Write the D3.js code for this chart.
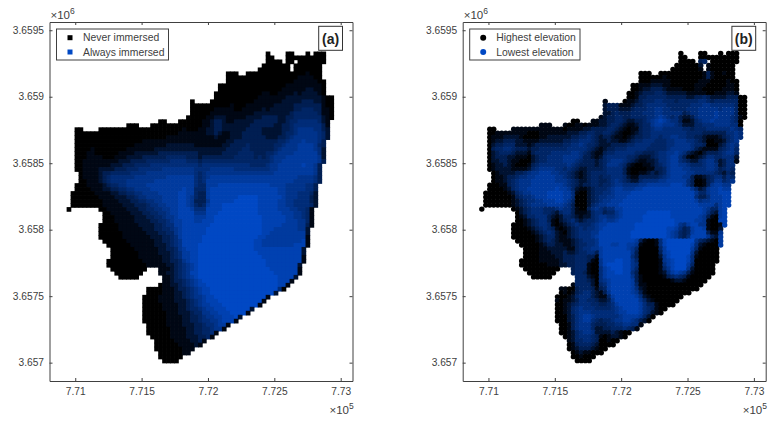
<!DOCTYPE html>
<html>
<head>
<meta charset="utf-8">
<script src="https://cdn.jsdelivr.net/npm/d3@7"></script>
<style>
  html, body { margin: 0; padding: 0; background: #fff; }
  svg { display: block; }
  text { font-family: "Liberation Sans", Arial, sans-serif; fill: #404040; }
  .axis path, .axis line { stroke: #404040; stroke-width: 1; }
  .axis text { font-size: 10.2px; }
</style>
</head>
<body>
<svg id="chart" width="769" height="421"></svg>
<script>
var xTicks = [771000, 771500, 772000, 772500, 773000];
var xTickLabels = ["7.71", "7.715", "7.72", "7.725", "7.73"];
var yTicks = [3657000, 3657500, 3658000, 3658500, 3659000, 3659500];
var yTickLabels = ["3.657", "3.6575", "3.658", "3.6585", "3.659", "3.6595"];
var xDomain = [770806, 773089];
var yDomain = [3656862, 3659562];

// the survey grid, 30 m cells, first cell centre at these coordinates
var gridX0 = 770950;
var gridY0 = 3659325;
var gridStep = 30;

// which columns exist on each row (from,to,from,to...), top row first
var rowRuns = [
[50,50,55,56,60,60,62,64],[50,51,55,64],[50,53,55,56,58,64],[49,55,57,63],[48,55,57,63],
[40,42,45,63],[40,63],[40,64],[38,64],[38,64],[37,64],[37,66],[31,31,36,66],[31,66],[31,66],[31,66],
[30,66],[23,24,28,65],[15,17,21,65],[2,3,8,65],[2,65],[2,65],[2,64],[2,64],[2,64],[2,64],[2,64],[2,64],
[2,63],[2,63],[3,63],[3,63],[3,63],[2,62],[2,62],[1,62],[1,62],[1,62],[1,62],[0,0,8,61],
[9,61],[9,61],[9,61],[8,61],[8,60],[8,60],[8,60],[9,60],[10,60],[11,59],[11,59],[11,59],[10,59],[10,58],
[11,19,23,58],[12,18,23,58],[13,17,24,57],[24,56],[23,55],[20,54],[20,52],[19,50],[19,49],[19,48],[19,46],[19,45],[19,43],[19,42],
[20,40],[20,39],[20,37],[21,36],[22,34],[22,33],[22,31],[23,30],[23,28],[24,27]
];

// immersion level per cell, 0 never .. 9 always (groups of ten columns)
var immersion = [
".......... .......... .......... .......... .......... 0....00... 0.000..",
".......... .......... .......... .......... .......... 00...00000 00000..",
".......... .......... .......... .......... .......... 0000.00.00 00000..",
".......... .......... .......... .......... .........0 000000.000 0000...",
".......... .......... .......... .......... ........00 000000.000 0000...",
".......... .......... .......... .......... 000..00000 0000000000 1000...",
".......... .......... .......... .......... 0000000000 0000000011 1100...",
".......... .......... .......... .......... 0000000000 0000000111 11100..",
".......... .......... .......... ........00 0000000000 0000011111 11110..",
".......... .......... .......... ........00 0000000000 0000111111 22110..",
".......... .......... .......... .......000 0000000001 1001111212 22210..",
".......... .......... .......... .......000 0000000011 1111122222 2222100",
".......... .......... .......... .0....0000 0000000111 1111222223 3322100",
".......... .......... .......... .000000000 0100011111 1122222333 3333100",
".......... .......... .......... .000000111 1100111112 1222222334 4433110",
".......... .......... .......... .000001111 1111111222 2222223444 4443110",
".......... .......... .......... 0000011222 1111122223 3332233444 4444210",
".......... .......... ...00...00 0000112332 1122222333 3332234455 5554211",
".......... .....000.. .000000000 0000112332 2222223333 3322334555 5555311",
"..00....00 0000000000 0000000001 0001122332 2222233332 2222334566 6655321",
"..00000000 0000000000 0000000011 1111122321 1222333332 2222344566 6665421",
"..00000000 0000000000 0000011111 1111111211 1222333333 2223345666 6665421",
"..00000000 0000000001 1111111111 1111111111 2233333333 3334456667 66653..",
"..00000000 0000000111 1111122222 2211111112 2333343333 3344566677 77643..",
"..00001000 0000011111 1122222222 2222222222 3333443333 3345666677 77652..",
"..00011000 0001111222 2223333333 3332222223 3334444333 4456666777 77752..",
"..00011110 0011122223 3333344444 3332333333 3344444343 4566677777 77762..",
"..00111111 1112223333 4444445555 4443444444 4444444444 4566777777 77763..",
"..00111111 1222333444 4555555555 5554555555 5555554444 5667777778 7763...",
"..00111122 2233344455 5555666666 6655556666 6655555555 5667777777 7763...",
"...0111123 3444445555 6666666666 6654566666 6666666666 6677777777 7763...",
"...0111123 4555555666 6666677777 7754567777 7777777777 7777777766 6653...",
"...0011123 4555566666 6677777777 7754577777 7777777777 7777777666 6653...",
"..00011112 3445566666 7777777777 7754477788 8888888888 8777766666 553....",
"..00001112 2334455666 6777777778 7744478888 8888888888 8887766666 553....",
".000000111 1223344556 6667777788 7743378888 8888888888 8887766655 542....",
".000000011 1122233455 6666777788 7643378888 8889999988 8888766655 532....",
".000000001 1112223344 5566777788 7633368888 8899999988 8887766555 532....",
".000000001 1111222333 4556677788 7643478889 9999999988 8887766555 542....",
"0.......00 1111122233 4455667788 8755588889 9999999988 8887776655 41.....",
".........0 0111112223 3445567788 8866688899 9999999988 8888777665 41.....",
".........0 0011111222 3344566788 8877788999 9999999998 8888877665 41.....",
".........0 0011111222 2334456778 8877888999 9999999998 8888877766 41.....",
"........00 0001111122 2233455778 8888889999 9999999998 8888777766 31.....",
"........00 0001111112 2233445678 8888899999 9999999998 8877777766 2......",
"........00 0000111111 2223344678 8888899999 9999999998 8777777777 2......",
"........00 0000111111 1222334578 8888999999 9999999988 7777777777 1......",
".........0 0000011111 1122334568 8888999999 9999999887 7777777778 1......",
".......... 0000001111 1122234568 8889999999 9999999887 7777777888 1......",
".......... .000000111 1112233467 8889999999 9999999888 8888888882 .......",
".......... .000000011 1112223457 7889999999 9999999988 8888888882 .......",
".......... .000000011 1111223457 7889999999 9999999998 8888888881 .......",
".......... 0000000001 1111223346 7889999999 9999999999 8888888881 .......",
".......... 0000000000 1111122345 6789999999 9999999999 888888882. .......",
".......... .000000000 ...1112345 6789999999 9999999999 988888881. .......",
".......... ..0000000. ...1122345 6889999999 9999999999 998888881. .......",
".......... ...00000.. ....112345 6789999999 9999999999 99988882.. .......",
".......... .......... ....112334 5678999999 9999999999 9998881... .......",
".......... .......... ...0112234 5678899999 9999999999 999881.... .......",
".......... .......... 0000111233 4567889999 9999999999 99950..... .......",
".......... .......... 0000111223 4567889999 9999999999 992....... .......",
".......... .........0 0001111223 4566788999 9999999999 1......... .......",
".......... .........0 0001111222 3456788899 9999999991 .......... .......",
".......... .........0 0000111122 3456778889 999999991. .......... .......",
".......... .........0 0000111122 3445677888 9999992... .......... .......",
".......... .........0 0000011122 2344667788 899991.... .......... .......",
".......... .........0 0000011112 2334566778 8892...... .......... .......",
".......... .........0 0000011112 2334556678 881....... .......... .......",
".......... .......... 0000011112 2233455677 1......... .......... .......",
".......... .......... 0000001111 2233445661 .......... .......... .......",
".......... .......... 0000001111 22334451.. .......... .......... .......",
".......... .......... .000001111 2223341... .......... .......... .......",
".......... .......... ..00000111 12231..... .......... .......... .......",
".......... .......... ..00000011 1121...... .......... .......... .......",
".......... .......... ..00000001 11........ .......... .......... .......",
".......... .......... ...0000001 1......... .......... .......... .......",
".......... .......... ...000000. .......... .......... .......... .......",
".......... .......... ....0000.. .......... .......... .......... ......."
];

// elevation level per cell, 0 highest .. 9 lowest
var elevation = [
".......... .......... .......... .......... .......... 0....00... 0.000..",
".......... .......... .......... .......... .......... 00...00000 00000..",
".......... .......... .......... .......... .......... 0000.34.00 00000..",
".......... .......... .......... .......... .........0 000002.100 0000...",
".......... .......... .......... .......... ........00 000001.100 0000...",
".......... .......... .......... .......... 000..00000 0000001310 0100...",
".......... .......... .......... .......... 0000001000 0000001310 0000...",
".......... .......... .......... .......... 0001111100 0000011100 00100..",
".......... .......... .......... ........00 1112221100 0000111000 00110..",
".......... .......... .......... ........00 1223332111 1000110000 01110..",
".......... .......... .......... .......001 2333443222 2211111001 11221..",
".......... .......... .......... .......001 3344444333 3322334322 2233300",
".......... .......... .......... .1....0112 3444554443 4444455434 4444400",
".......... .......... .......... .233311123 3455555444 4445556655 5555400",
".......... .......... .......... .233322234 4455665544 4455566666 5666400",
".......... .......... .......... .223433344 4555665555 5345566667 6666400",
".......... .......... .......... 1233443344 4455676545 3223566667 6665410",
".......... .......... ...00...11 2233443223 3456787655 3112456676 6665400",
".......... .....111.. .100110111 2234432112 3446776665 4222445556 6665500",
"..00....11 1111111111 1011112233 3344321011 3445665555 5443444555 5556540",
"..00111111 1100011111 1122233443 3443210012 3445555555 5544443333 3355650",
"..01112222 1000011222 2223344543 2332110123 3445545566 5544332111 2345652",
"..01223332 2111122222 2334455543 2232211234 4555444556 6655432001 12456..",
"..02334442 2212333333 3445565443 2223333445 5554444556 6665443000 23565..",
"..03445543 3323344444 4455555432 1233444555 5544444566 6665321111 34564..",
"..02344432 2213444455 5556654321 1344555554 4333455667 6532102333 45664..",
"..02333221 1102344555 5666653321 2455555443 2223455677 5310123554 45552..",
"..02233211 0002344555 5666543332 3456665432 1122355677 5432245664 23551..",
"..01223210 0013455555 5565433332 3466654210 0112345677 6654445665 2355...",
"..01222211 1124566665 5454322333 3455553100 0011334677 7665555665 3454...",
"...0122223 3456677766 5543212344 4455553100 1123234677 7766555554 3243...",
"...0112334 5566777776 6543212344 3445554211 3333345677 7663112345 5354...",
"...0112345 6667777776 6654322344 3345654322 4555566777 7753001346 6456...",
"..00011345 6667777777 7654323344 3445665555 6677777788 8753001367 766....",
"..00001245 6677777778 7764211234 4456776667 7888888888 8886423677 877....",
".000000124 5667777888 8775100234 4556777788 8888888888 8888644677 888....",
".000000013 4556777888 8775000234 5566777888 8888888888 8888533577 788....",
".000000012 3455667778 8764000234 5667778888 8888888888 8888756677 788....",
".000000012 3456666777 7653000245 6677788888 8888888888 8888877775 788....",
"0.......01 2345554445 6553100356 5455778888 8888888888 8888887644 78.....",
".........0 2345554432 4553111245 5344678888 8899999988 8888887532 78.....",
".........0 1244555321 2443212245 6655678888 8999999988 8888876310 78.....",
".........0 0123455310 2345323445 6766788888 8999999998 8888776100 88.....",
"........00 0123455410 1234544456 7788888889 9999999998 6578866100 18.....",
"........00 0012345431 0123454556 7888888889 9999999887 5347887100 2......",
"........00 0001234542 1023455566 8888888899 9999999876 4347888311 6......",
"........00 0000123442 1123455567 8888888899 9999999876 4358888632 7......",
".........0 0000123432 1112345556 8888888887 3100158999 9999643210 7......",
".......... 0000012332 2112344556 8887788776 1000158999 9998521000 7......",
".......... .000011222 2211345566 7888888764 0000047999 9997410000 .......",
".......... .000011122 2322344553 7888888863 0000037899 9996200000 .......",
".......... .000011112 2333444331 7888888853 0000026899 9985100000 .......",
".......... 0000011111 2333444310 6888998864 0000016789 9985000000 .......",
".......... 0000000111 2233444100 6899998865 0000015789 997400000. .......",
".......... .000000000 ...3444100 5789998864 0000014689 996200000. .......",
".......... ..0000000. ...3443100 5788998853 0000012578 763100000. .......",
".......... ...00000.. ....444210 5788888863 1000001345 43100000.. .......",
".......... .......... ....444320 5678888873 1000000012 2100000... .......",
".......... .......... ...1444420 4578888874 1100000000 000000.... .......",
".......... .......... 1100344431 3478888875 2100000000 00000..... .......",
".......... .......... 0101345532 1368888876 3100000000 000....... .......",
".......... .........0 0012455532 1147888887 5210000000 0......... .......",
".......... .........1 0112355443 2236888888 6421000000 .......... .......",
".......... .........0 0123455544 3345788888 753310000. .......... .......",
".......... .........0 0124565554 4445678888 7543100... .......... .......",
".......... .........0 0124566655 5555677888 754210.... .......... .......",
".......... .........0 0023567765 5555567777 6420...... .......... .......",
".......... .........0 0023567754 3445667765 320....... .......... .......",
".......... .......... 0013566643 3344556655 1......... .......... .......",
".......... .......... 0013566642 2334445431 .......... .......... .......",
".......... .......... 0012456652 22232100.. .......... .......... .......",
".......... .......... .012455543 1012210... .......... .......... .......",
".......... .......... ..12445543 00100..... .......... .......... .......",
".......... .......... ..01344432 0000...... .......... .......... .......",
".......... .......... ..01233321 00........ .......... .......... .......",
".......... .......... ...0121100 0......... .......... .......... .......",
".......... .......... ...001000. .......... .......... .......... .......",
".......... .......... ....0000.. .......... .......... .......... ......."
];

var blue = "#0048c4";
// black to blue, kept close to black for the first step so the rim stays soft
var ramp = d3.interpolateRgb("#000000", blue);
var color = d3.scaleLinear().domain([0, 1, 2, 3, 9]).range([0, 0.1, 0.25, 0.42, 1].map(ramp));

var svg = d3.select("#chart");

function cells(rows) {
  var out = [];
  rowRuns.forEach(function(runs, r) {
    var row = rows[r].replace(/ /g, "");
    for (var k = 0; k < runs.length; k += 2) {
      for (var c = runs[k]; c <= runs[k + 1]; c++) {
        var v = +row[c];
        out.push({x: gridX0 + c * gridStep, y: gridY0 - r * gridStep, v: isNaN(v) ? 0 : v});
      }
    }
  });
  return out;
}

function panel(opt) {
  var left = opt.left, right = left + 303, top = 22, bottom = 381;
  var x = d3.scaleLinear().domain(xDomain).range([left, right]);
  var y = d3.scaleLinear().domain(yDomain).range([bottom, top]);
  var g = svg.append("g");
  var data = cells(opt.rows);
  var marks = g.append("g").style("filter", "blur(0.4px)");

  if (opt.kind == "square") {
    var w = x(gridStep) - x(0), h = y(0) - y(gridStep);
    marks.selectAll("rect").data(data).enter().append("rect")
      .attr("x", function(d) { return x(d.x) - w / 2; })
      .attr("y", function(d) { return y(d.y) - h / 2; })
      .attr("width", w + 0.7)
      .attr("height", h + 0.7)
      .attr("fill", function(d) { return color(d.v); });
  } else {
    marks.selectAll("circle").data(data).enter().append("circle")
      .attr("cx", function(d) { return x(d.x); })
      .attr("cy", function(d) { return y(d.y); })
      .attr("r", 2.7)
      .attr("fill", function(d) { return color(d.v); });
  }

  // box with inward ticks on all four sides
  var bottomAxis = d3.axisBottom(x).tickValues(xTicks).tickSizeInner(-3).tickSizeOuter(0).tickPadding(7)
    .tickFormat(function(d, i) { return xTickLabels[i]; });
  var leftAxis = d3.axisLeft(y).tickValues(yTicks).tickSizeInner(-3).tickSizeOuter(0).tickPadding(5.5)
    .tickFormat(function(d, i) { return yTickLabels[i]; });
  var topAxis = d3.axisTop(x).tickValues(xTicks).tickSizeInner(-3).tickSizeOuter(0).tickFormat("");
  var rightAxis = d3.axisRight(y).tickValues(yTicks).tickSizeInner(-3).tickSizeOuter(0).tickFormat("");
  g.append("g").attr("class", "axis").attr("transform", "translate(0," + bottom + ")").call(bottomAxis);
  g.append("g").attr("class", "axis").attr("transform", "translate(" + left + ",0)").call(leftAxis);
  g.append("g").attr("class", "axis").attr("transform", "translate(0," + top + ")").call(topAxis);
  g.append("g").attr("class", "axis").attr("transform", "translate(" + right + ",0)").call(rightAxis);

  // exponents
  var e6 = g.append("text").attr("x", left + 1).attr("y", 19).attr("font-size", 11.5).text("\u00d710");
  e6.append("tspan").attr("dy", -5).attr("font-size", 8.5).text("6");
  var e5 = g.append("text").attr("x", left + 280).attr("y", 414).attr("font-size", 11.5).text("\u00d710");
  e5.append("tspan").attr("dy", -5).attr("font-size", 8.5).text("5");

  // legend
  var lx = left + 7;
  g.append("rect").attr("x", lx).attr("y", 29).attr("width", opt.legendW).attr("height", 31)
    .attr("fill", "#fff").attr("stroke", "#404040").attr("stroke-width", 1);
  [[opt.labels[0], "#000000", 37.7], [opt.labels[1], blue, 52]].forEach(function(item) {
    if (opt.kind == "square") {
      g.append("rect").attr("x", lx + 13.5 - 2.5).attr("y", item[2] - 2.5).attr("width", 5).attr("height", 5).attr("fill", item[1]);
    } else {
      g.append("circle").attr("cx", lx + 13.5).attr("cy", item[2]).attr("r", 3).attr("fill", item[1]);
    }
    g.append("text").attr("x", lx + 26.5).attr("y", item[2] + 3.5).attr("font-size", 10.4).text(item[0]);
  });

  // panel letter
  g.append("rect").attr("x", left + 269.2).attr("y", 26.3).attr("width", 23.8).attr("height", 24)
    .attr("fill", "#fff").attr("stroke", "#333").attr("stroke-width", 1);
  g.append("text").attr("x", left + 281.1).attr("y", 43.5).attr("text-anchor", "middle")
    .attr("font-size", 14).attr("font-weight", "bold").style("fill", "#222").text(opt.letter);
}

panel({left: 49.5, rows: immersion, kind: "square", labels: ["Never immersed", "Always immersed"], legendW: 112, letter: "(a)"});
panel({left: 462.7, rows: elevation, kind: "circle", labels: ["Highest elevation", "Lowest elevation"], legendW: 110.3, letter: "(b)"});
</script>
</body>
</html>
